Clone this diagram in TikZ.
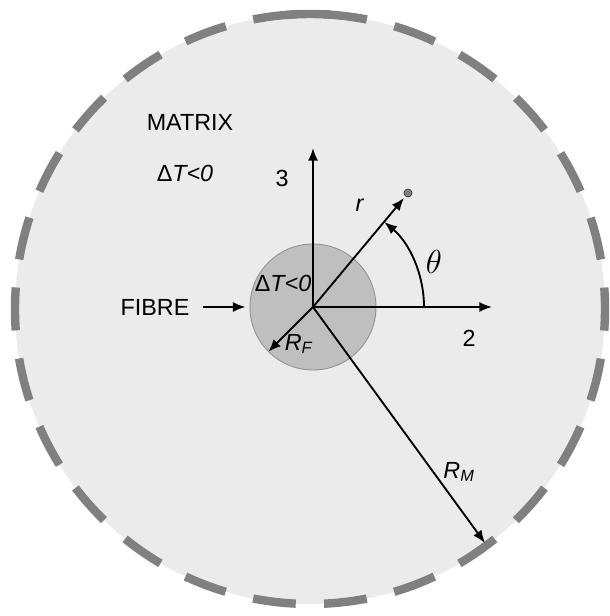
\documentclass[tikz,border=0pt]{standalone}
\usepackage{fontspec}
\setmainfont{Liberation Sans}
\usetikzlibrary{arrows.meta}
\begin{document}
\begin{tikzpicture}[x=0.75pt,y=0.75pt,
  vec/.style={line width=1.4pt,-{Latex[length=9.5pt,width=7.5pt]}},
  rim/.style={draw=black!50,line width=6.3pt},
  lbl/.style={font=\fontsize{17.5}{20}\selectfont}]
\useasboundingbox (-313,-309) rectangle (296,307);
\coordinate (O) at (0,0);
\coordinate (M) at (-3,-2);
\coordinate (E2) at (179,0);
\coordinate (E3) at (0,159);
\coordinate (P) at (95,114);
\coordinate (Pr) at (91,109);
\coordinate (RM) at (172,-236);
\coordinate (T0) at (111,0);

% matrix and fibre
\fill[black!8] (M) circle (221.25pt);
\draw[rim,dash pattern=on 32.25pt off 21.22pt] (M) ++(-4.18:221.25pt) arc (-4.18:355.82:221.25pt);
\draw[rim] (M) ++(86:221.25pt) arc (86:94.5:221.25pt);
\node[circle,fill=black!25,draw=black!42,line width=0.7pt,
  minimum size=94.5pt,inner sep=0pt] (fib) at (O) {};

\draw[vec] (O) -- (E2);
\draw[vec] (O) -- (E3);
\draw[vec] (O) -- (Pr);
\draw[vec] (O) -- (fib.225);
\draw[vec] (O) -- (RM);
\draw[vec] (T0) arc (0:50:83.25pt);
\fill[black!50,draw=black!80,line width=0.5pt] (P) circle (3pt);

\node[lbl] (matrix) at (-123,185) {MATRIX};
\node[lbl] (dtm) at (-128,134) {Δ\textit{T<0}};
\node[lbl] (dtf) at (-30,24) {Δ\textit{T<0}};
\node[lbl] (fibre) at (-158,0) {FIBRE};
\draw[vec] ([xshift=7pt]fibre.east) -- ([xshift=-3pt]fib.west);
\node[lbl] (l3) at (-31,129) {3};
\node[lbl] (l2) at (156,-31) {2};
\node[lbl] (lr) at (47,102) {\textit{r}};
\node[lbl,font=\fontsize{23}{26}\selectfont] (lth) at (121,45) {$\theta$};
\node[lbl] (lrf) at (-14,-37) {\textit{R}\textsubscript{\textit{F}}};
\node[lbl] (lrm) at (146,-165) {\textit{R}\textsubscript{\textit{M}}};
\end{tikzpicture}
\end{document}
